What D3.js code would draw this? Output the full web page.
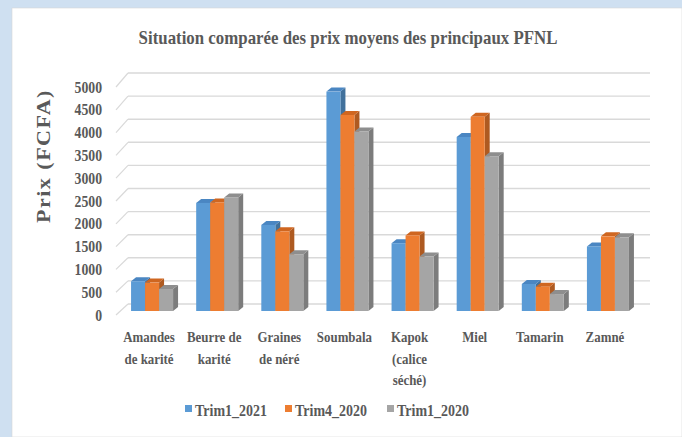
<!DOCTYPE html>
<html>
<head>
<meta charset="utf-8">
<script src="https://cdn.jsdelivr.net/npm/d3@7"></script>
<style>
  html, body { margin: 0; padding: 0; background: #cfe0f1; }
  svg text { font-family: "Liberation Serif", "DejaVu Serif", serif; }
</style>
</head>
<body>
<svg id="chart" width="682" height="437"></svg>
<script>
// Data
const categories = ['Amandes de karité', 'Beurre de karité', 'Graines de néré', 'Soumbala',
  'Kapok (calice séché)', 'Miel', 'Tamarin', 'Zamné'];
const categoryLines = [['Amandes', 'de karité'], ['Beurre de', 'karité'], ['Graines', 'de néré'], ['Soumbala'],
  ['Kapok', '(calice', 'séché)'], ['Miel'], ['Tamarin'], ['Zamné']];
const seriesNames = ['Trim1_2021', 'Trim4_2020', 'Trim1_2020'];
const trim1_2021 = [650, 2360, 1880, 4790, 1480, 3800, 590, 1410];
const trim4_2020 = [620, 2370, 1740, 4280, 1650, 4240, 530, 1630];
const trim1_2020 = [480, 2480, 1240, 3920, 1190, 3380, 370, 1610];
const yTicks = [0, 500, 1000, 1500, 2000, 2500, 3000, 3500, 4000, 4500, 5000];

const seriesValues = [trim1_2021, trim4_2020, trim1_2020];
const frontColors = ['#5b9bd5', '#ed7d31', '#a5a5a5'];
const topColors = ['#4a86c2', '#cf6620', '#8e8e8e'];
const sideColors = ['#41719c', '#ae5a21', '#7c7c7c'];
const textColor = '#595959';
const squeeze = 0.86; // narrow serif look

const svg = d3.select('#chart');

// white panel
svg.append('rect')
  .attr('x', 12).attr('y', 8)
  .attr('width', 682 - 12).attr('height', 437 - 8)
  .attr('fill', '#fff')
  .attr('stroke', '#d8d8d8').attr('stroke-width', 0.6);

// scales
const yFront = d3.scaleLinear().domain([0, 5000]).range([315, 87]);
const yBack = d3.scaleLinear().domain([0, 5000]).range([304, 73]);
const yBar = d3.scaleLinear().domain([0, 5000]).range([311, 82]);
const x = d3.scaleBand().domain(categories).range([119.5, 640.5])
  .paddingInner(0.355).paddingOuter(0.1775);
const xs = d3.scaleBand().domain(seriesNames).range([0, x.bandwidth()]);
const depthX = 5, depthY = 4;

// back wall gridlines + diagonal floor edge
const grid = svg.append('g');
grid.selectAll('.grid')
  .data(yTicks)
  .join('line')
  .attr('x1', 128).attr('x2', 650)
  .attr('y1', d => yBack(d)).attr('y2', d => yBack(d))
  .attr('stroke', '#d9d9d9').attr('stroke-width', 1.4);
grid.selectAll('.diag')
  .data(yTicks)
  .join('line')
  .attr('x1', 116).attr('y1', d => yFront(d))
  .attr('x2', 128).attr('y2', d => yBack(d))
  .attr('stroke', '#d9d9d9').attr('stroke-width', 1.2);

// y tick labels
svg.append('g').selectAll('text')
  .data(yTicks)
  .join('text')
  .attr('transform', d => `translate(102,${yFront(d) + 5.5}) scale(${squeeze},1)`)
  .attr('text-anchor', 'end')
  .attr('fill', textColor)
  .style('font-size', '16px').style('font-weight', 'bold')
  .text(d => d);

// y axis title
svg.append('text')
  .attr('transform', `translate(50,156) rotate(-90) scale(1,${squeeze})`)
  .attr('text-anchor', 'middle')
  .attr('fill', textColor)
  .style('font-size', '22px').style('font-weight', 'bold').style('letter-spacing', '1.5px')
  .text('Prix (FCFA)');

// bars (3D boxes)
const bars = svg.append('g');
categories.forEach((cat, i) => {
  seriesNames.forEach((s, j) => {
    const v = seriesValues[j][i];
    const x0 = x(cat) + xs(s), w = xs.bandwidth();
    const yt = yBar(v), yb = yBar(0);
    const g = bars.append('g');
    // side face
    g.append('path')
      .attr('d', `M${x0 + w},${yb} L${x0 + w + depthX},${yb - depthY} L${x0 + w + depthX},${yt - depthY} L${x0 + w},${yt} Z`)
      .attr('fill', sideColors[j]);
    // top face
    g.append('path')
      .attr('d', `M${x0},${yt} L${x0 + depthX},${yt - depthY} L${x0 + w + depthX},${yt - depthY} L${x0 + w},${yt} Z`)
      .attr('fill', topColors[j]);
    // front face
    g.append('rect')
      .attr('x', x0).attr('y', yt)
      .attr('width', w).attr('height', yb - yt)
      .attr('fill', frontColors[j]);
  });
});

// category labels
const catG = svg.append('g').selectAll('g')
  .data(categories)
  .join('g');
catG.each(function(cat, i) {
  const cx = x(cat) + x.bandwidth() / 2 - 3;
  d3.select(this).selectAll('text')
    .data(categoryLines[i])
    .join('text')
    .attr('transform', (d, k) => `translate(${cx},${342 + k * 21.5}) scale(${squeeze},1)`)
    .attr('text-anchor', 'middle')
    .attr('fill', textColor)
    .style('font-size', '15px').style('font-weight', 'bold')
    .text(d => d);
});

// title
svg.append('text')
  .attr('transform', `translate(348,44) scale(${squeeze},1)`)
  .attr('text-anchor', 'middle')
  .attr('fill', textColor)
  .style('font-size', '19.6px').style('font-weight', 'bold')
  .text('Situation comparée des prix moyens des principaux PFNL');

// legend
const legendX = [185, 285, 387];
const legend = svg.append('g').selectAll('g')
  .data(seriesNames)
  .join('g')
  .attr('transform', (d, i) => `translate(${legendX[i]},405)`);
legend.append('rect')
  .attr('width', 7).attr('height', 7)
  .attr('fill', (d, i) => frontColors[i]);
legend.append('text')
  .attr('transform', `translate(10,10.5) scale(0.8,1)`)
  .attr('fill', textColor)
  .style('font-size', '17.5px').style('font-weight', 'bold')
  .text(d => d);
</script>
</body>
</html>
